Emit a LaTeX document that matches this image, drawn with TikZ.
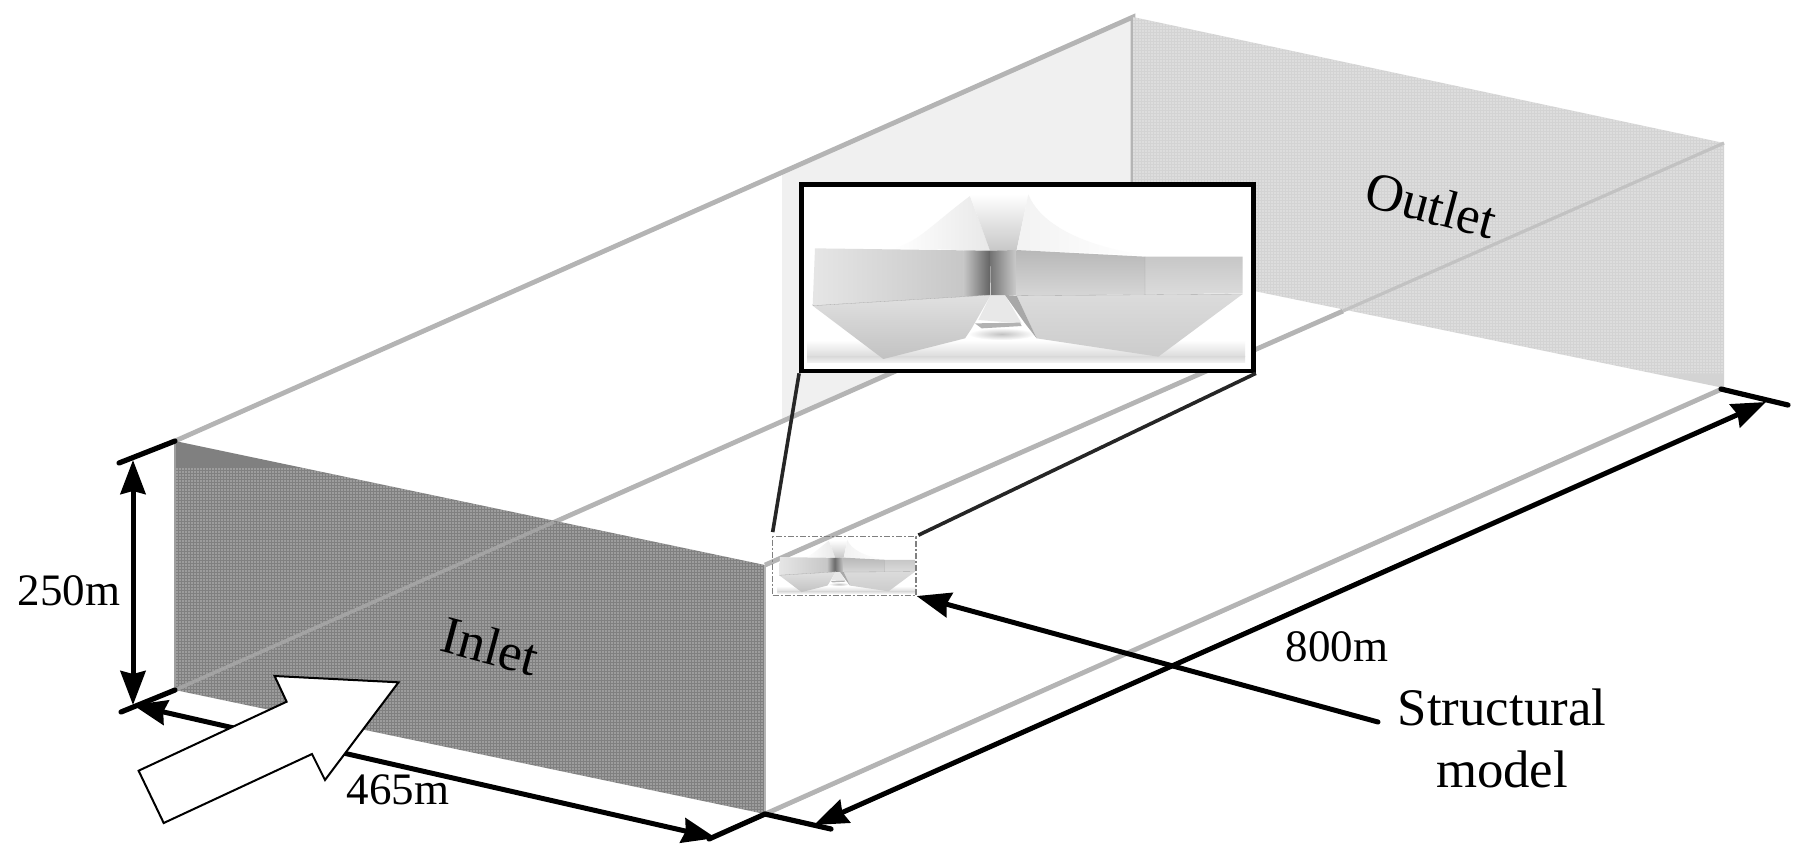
\documentclass[tikz,border=0pt]{standalone}
\usepackage{fontspec}
\setmainfont{Liberation Serif}
\usetikzlibrary{arrows.meta}
\usetikzlibrary{patterns.meta}
\definecolor{edgegray}{HTML}{B4B4B4}
\definecolor{wallgray}{HTML}{F0F0F0}
\definecolor{inletgray}{HTML}{808080}
\definecolor{outletgray}{HTML}{D3D3D3}
\tikzset{
  edgeline/.style={edgegray,line width=2.4pt},
  tickline/.style={black,line width=2.6pt,line cap=round},
  dimarrow/.style={black,line width=2.5pt,{Stealth[length=17pt,width=12.5pt,inset=1.5pt]}-{Stealth[length=17pt,width=12.5pt,inset=1.5pt]}},
  leadarrow/.style={black,line width=2.5pt,-{Stealth[length=17pt,width=12.5pt,inset=1.5pt]}},
  zoomline/.style={black!85,line width=1.8pt},
  dimlabel/.style={font=\fontsize{22.5}{27}\selectfont,inner sep=0pt,anchor=base},
  facelabel/.style={font=\fontsize{26.5}{31}\selectfont,inner sep=0pt,rotate=-15},
  hull/.pic={
    \begin{scope}[x=0.16667pt,y=-0.16667pt,line width=0.15pt]
      \shade[top color=white,bottom color=black!14] (141,540) rectangle (1455,590);
      \shade[top color=black!14,bottom color=black!5] (141,590) rectangle (1455,608);
      \shade[inner color=black!24,outer color=white] (725,522) ellipse (100 and 18);
      \shade[left color=white,right color=black!9] (400,265) .. controls (470,250) and (520,190) .. (630,108) -- (690,272) -- cycle;
      \shade[top color=white,bottom color=black!22] (630,108) -- (805,103) -- (770,270) -- (690,272) -- cycle;
      \shade[left color=black!5,right color=white] (805,103) .. controls (840,190) and (960,255) .. (1150,285) -- (770,270) -- cycle;
      \fill[black!9] (692,405) -- (655,480) -- (785,490) -- (735,405) -- cycle;
      \fill[black!30] (645,490) -- (780,488) -- (785,498) -- (665,505) -- cycle;
      % left band, light and dark only by the core
      \shade[left color=black!10,right color=black!22] (165,265) -- (610,271) -- (610,410) -- (158,437) -- cycle;
      \shade[left color=black!22,right color=black!62] (610,271) -- (690,272) -- (692,405) -- (610,410) -- cycle;
      \shade[left color=black!55,right color=black!20] (690,272) -- (770,270) -- (768,405) -- (692,405) -- cycle;
      \shade[top color=black!28,middle color=black!2,bottom color=black!16] (770,270) -- (1155,290) -- (1155,403) -- (770,407) -- cycle;
      \shade[top color=black!22,middle color=black!3,bottom color=black!14] (1155,290) -- (1448,290) -- (1448,400) -- (1155,403) -- cycle;
      \shade[top color=black!12,bottom color=black!24] (158,437) -- (692,405) -- (635,505) -- (615,535) -- (370,597) -- cycle;
      \shade[top color=black!14,bottom color=black!20] (770,407) -- (1448,402) -- (1195,590) -- (830,535) -- cycle;
      \fill[black!34] (735,405) -- (770,407) -- (830,535) -- (795,490) -- cycle;
      \draw[black!35] (158,437) -- (692,405) (770,407) -- (1448,402) (1155,290) -- (1155,403);
    \end{scope}
  }
}

\begin{document}
\begin{tikzpicture}[x=0.5pt,y=-0.5pt]
  \useasboundingbox (0,0) rectangle (1805,859);
  % corners of the domain
  \coordinate (inTL) at (175,441);
  \coordinate (inTR) at (765,565);
  \coordinate (inBR) at (765,814);
  \coordinate (inBL) at (175,690);
  \coordinate (outTL) at (1133,17);
  \coordinate (outTR) at (1724,143);
  \coordinate (outBR) at (1724,388);
  \coordinate (outBL) at (1133,266);
  \coordinate (inCross) at (554,522);
  \coordinate (outCross) at (1343,311);
  % side wall and edges
  \fill[wallgray] (782,172) -- (outTL) -- (outBL) -- (782,421) -- cycle;
  \draw[edgeline] (inTL) -- (outTL) -- (outBL);
  \draw[edgeline] (inBL) -- (outBL);
  \draw[edgeline] (inTR) -- (outCross);
  \draw[edgeline] (inBR) -- (outBR);
  % outlet face
  \fill[outletgray] (outTL) -- (outTR) -- (outBR) -- (outBL) -- cycle;
  \path[pattern={Dots[radius=0.33pt,distance=1.5pt]},pattern color=white] (outTL) -- (outTR) -- (1724,373) -- (1651,373) -- (outBL) -- cycle;
  \draw[black!24,line width=1.6pt] (outCross) -- (outTR);
  % inlet face
  \fill[inletgray] (inTL) -- (inTR) -- (inBR) -- (inBL) -- cycle;
  \path[pattern={Dots[radius=0.33pt,distance=1.5pt]},pattern color=white] (303,468) -- (inTR) -- (inBR) -- (inBL) -- (inBL |- 0,468) -- cycle;
  \draw[black!36,line width=1.8pt] (inBL) -- (inCross);
  \draw[black!38,line width=0.8pt] (inTL) -- (inBL);
  \draw[edgegray,line width=1.4pt] (inTR) -- (inBR);
  % dimensions
  \coordinate (tickA) at (119,463);
  \coordinate (tickB) at (121,712);
  \coordinate (tickC) at (709,839);
  \coordinate (tickD) at (831,829);
  \coordinate (tickE) at (1788,405);
  \draw[tickline] (inTL) -- (tickA);
  \draw[tickline] (inBL) -- (tickB);
  \draw[tickline] (tickC) -- (inBR) -- (tickD);
  \draw[tickline] (1721,389) -- (tickE);
  \coordinate (hTop) at (133,460);
  \coordinate (hBot) at (133,705);
  \coordinate (wEnd) at (716,838);
  \coordinate (lEnd) at (814,825);
  \coordinate (lTop) at (1766,402);
  \path[dimarrow] (hTop) edge (hBot);
  \path[dimarrow] (hBot) edge (wEnd);
  \path[dimarrow] (lEnd) edge (lTop);
  % wind arrow
  \draw[black,fill=white,line width=1pt,line join=miter] (138.6,770.7) -- (286.6,701.7) -- (274.6,676) -- (398.5,682.3) -- (325,780) -- (312,754) -- (163.7,823) -- cycle;
  % labels
  \node[dimlabel] (lab250) at (69,605) {250m};
  \node[dimlabel] (lab465) at (398,804) {465m};
  \node[dimlabel] (lab800) at (1337,661) {800m};
  \node[facelabel] (labIn) at (490,646) {Inlet};
  \node[facelabel] (labOut) at (1431,205) {Outlet};
  \node[font=\fontsize{26.4}{31}\selectfont,inner sep=0pt,align=center] (labModel) at (1502,738) {Structural\\model};
  % close-up and its small source
  \node[draw=black,line width=2.4pt,fill=white,minimum width=226pt,minimum height=93.2pt,inner sep=0pt] (bigbox) at (1027.5,277.7) {};
  \pic at (760,160) {hull};
  \pic[scale=0.316] at (762.6,529.2) {hull};
  \node[draw=black!50,line width=0.7pt,dash pattern=on 3pt off 1pt on 1pt off 1pt,minimum width=71.6pt,minimum height=29.3pt,inner sep=0pt] (smallbox) at (844.3,566) {};
  \draw[zoomline,shorten >=2pt] (bigbox.south west) -- (smallbox.north west);
  \draw[zoomline,shorten >=1pt] (bigbox.south east) -- (smallbox.north east);
  \coordinate (leadEnd) at (1378,722);
  \draw[leadarrow,line cap=round] (leadEnd) -- (smallbox.south east);
\end{tikzpicture}
\end{document}
